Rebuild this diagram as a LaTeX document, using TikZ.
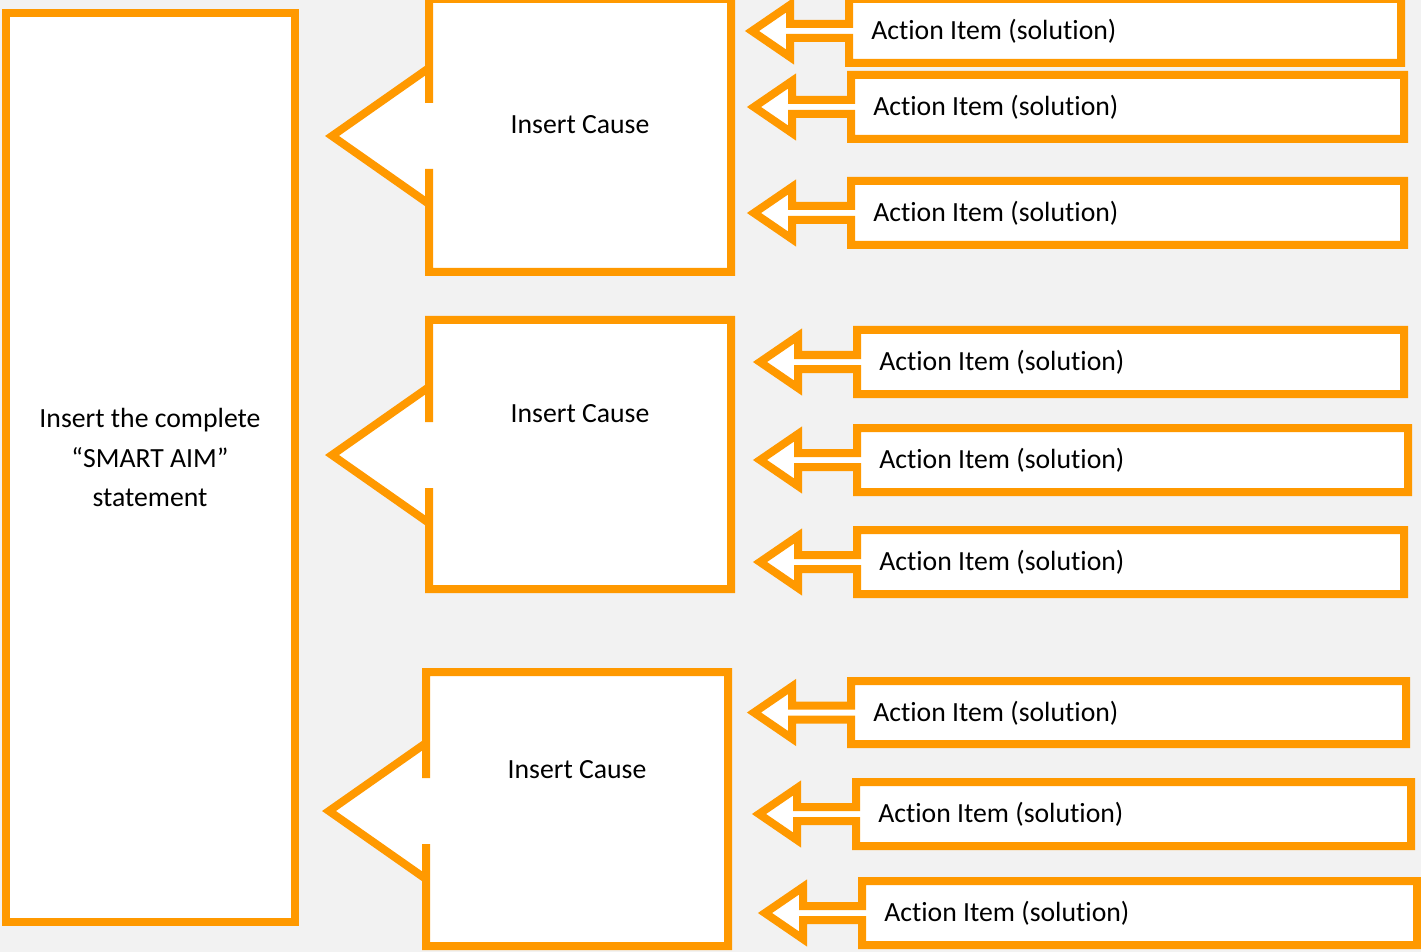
\documentclass[tikz,border=0pt]{standalone}
\usepackage{fontspec}
\setmainfont{Carlito}[Ligatures={NoCommon}]
\definecolor{orng}{HTML}{FF9900}
\definecolor{bggray}{HTML}{F2F2F2}
\newcommand{\diagfont}{\fontsize{20.8pt}{30pt}\selectfont}
\tikzset{
  callout/.style={draw=orng, fill=white, line width=6pt, line join=miter, miter limit=10},
  acttext/.style={anchor=base west, inner sep=0pt, font=\diagfont, text=black},
  ctrtext/.style={anchor=base, inner sep=0pt, font=\diagfont, text=black},
}
% action item callout: #1 box left, #2 top, #3 right, #4 bottom, #5 name
\newcommand{\actitem}[5]{%
  \pgfmathsetmacro{\cyv}{(#2+#4)/2}%
  \pgfmathsetmacro{\hxv}{#1-59}%
  \pgfmathsetmacro{\tipv}{#1-97}%
  \draw[callout] (#1,#2) -- (#3,#2) -- (#3,#4) -- (#1,#4) -- (#1,\cyv+7) -- (\hxv,\cyv+7)
     -- (\hxv,\cyv+26) -- (\tipv,\cyv) -- (\hxv,\cyv-26) -- (\hxv,\cyv-7) -- (#1,\cyv-7) -- cycle;
  \node[acttext] (#5) at (#1+22,\cyv+8.5) {Action Item (solution)};
}
% cause callout: #1 box left, #2 top, #3 right, #4 bottom, #5 arrow centre y, #6 text x, #7 text baseline, #8 name
\newcommand{\causeitem}[8]{%
  \pgfmathsetmacro{\tipv}{#1-97}%
  \draw[callout] (#1,#2) -- (#3,#2) -- (#3,#4) -- (#1,#4) -- (#1,#5+33) -- (#1,#5+68)
     -- (\tipv,#5) -- (#1,#5-68) -- (#1,#5-33) -- cycle;
  \node[ctrtext] (#8) at (#6,#7) {Insert Cause};
}
\begin{document}
\begin{tikzpicture}[x=0.75pt,y=-0.75pt]
  \fill[bggray] (0,0) rectangle (1421,952);
  \useasboundingbox (0,0) rectangle (1421,952);

  % aim box
  \draw[callout] (6,13) rectangle (295,922);
  \node[ctrtext] (aim1) at (150,427) {Insert the complete};
  \node[ctrtext] (aim2) at (150,467) {“SMART AIM”};
  \node[ctrtext] (aim3) at (150,506) {statement};

  % causes
  \causeitem{429}{-1}{731}{272}{136}{580}{134}{cause1}
  \causeitem{429}{320}{731}{589}{455}{580}{422}{cause2}
  \causeitem{426}{672}{728}{946}{811}{577}{778}{cause3}

  % action items
  \actitem{849}{-1}{1401}{63}{act1}
  \actitem{851}{75}{1404}{139}{act2}
  \actitem{851}{181}{1404}{245}{act3}
  \actitem{857}{330}{1404}{394}{act4}
  \actitem{857}{428}{1408}{492}{act5}
  \actitem{857}{530}{1404}{594}{act6}
  \actitem{851}{681}{1406}{744}{act7}
  \actitem{856}{782}{1411}{846}{act8}
  \actitem{862}{881}{1417}{945}{act9}
\end{tikzpicture}
\end{document}
